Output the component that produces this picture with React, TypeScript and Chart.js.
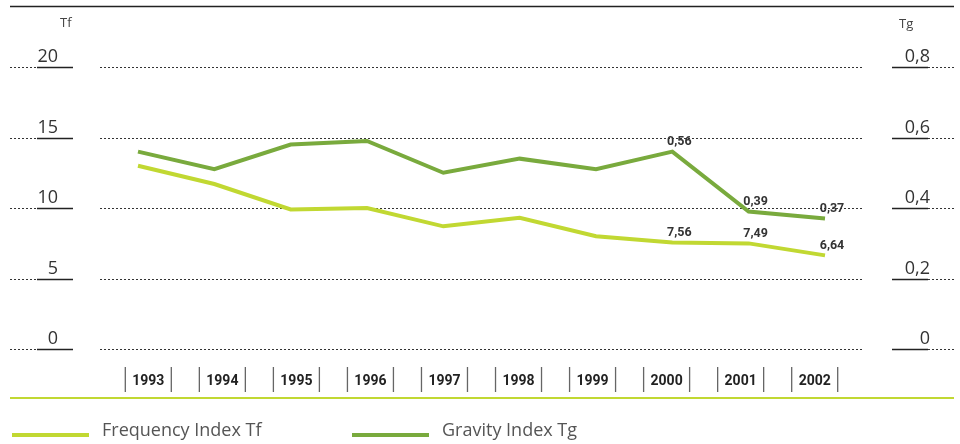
import React, { useEffect, useRef } from "react";
import { Chart, registerables } from "chart.js";

Chart.register(...registerables);

const years = ["1993", "1994", "1995", "1996", "1997", "1998", "1999", "2000", "2001", "2002"];
const frequencyTf = [13.0, 11.7, 9.9, 10.0, 8.7, 9.3, 8.0, 7.56, 7.49, 6.64];
const gravityTg = [0.56, 0.51, 0.58, 0.59, 0.5, 0.54, 0.51, 0.56, 0.39, 0.37];
const labeledYears = ["2000", "2001", "2002"];
const tfTickValues = [0, 5, 10, 15, 20];
const tfTickLabels = ["0", "5", "10", "15", "20"];
const tgTickValues = [0, 0.2, 0.4, 0.6, 0.8];
const tgTickLabels = ["0", "0,2", "0,4", "0,6", "0,8"];
const seriesNames = ["Frequency Index Tf", "Gravity Index Tg"];
const axisTitles = ["Tf", "Tg"];

const LIME = "#c1d832";
const GREEN = "#79aa3d";
const INK = "#333333";

const fmt = (v: number) => v.toFixed(2).replace(".", ",");

const decorPlugin = {
  id: "decor",
  beforeDatasetsDraw(chart: any) {
    const ctx = chart.ctx;
    const y = chart.scales.y;
    const y1 = chart.scales.y1;
    const x = chart.scales.x;
    const W = chart.width;
    ctx.save();
    // top rule
    ctx.strokeStyle = "#222";
    ctx.lineWidth = 1.3;
    ctx.beginPath();
    ctx.moveTo(10, 6.5);
    ctx.lineTo(W - 6, 6.5);
    ctx.stroke();

    // axis titles
    ctx.fillStyle = "#444";
    ctx.font = "13px 'Open Sans', sans-serif";
    ctx.textBaseline = "middle";
    ctx.textAlign = "left";
    ctx.fillText(axisTitles[0], 60, 23);
    ctx.fillText(axisTitles[1], 899, 24);

    // grid lines + tick labels
    tfTickValues.forEach((v, i) => {
      const py = Math.round(y.getPixelForValue(v)) + 0.5;
      ctx.strokeStyle = "#333";
      ctx.lineWidth = 1;
      ctx.setLineDash([2, 2]);
      ctx.beginPath();
      ctx.moveTo(10, py);
      ctx.lineTo(37, py);
      ctx.moveTo(100, py);
      ctx.lineTo(863, py);
      ctx.moveTo(928, py);
      ctx.lineTo(W - 6, py);
      ctx.stroke();
      ctx.setLineDash([]);
      ctx.lineWidth = 1.5;
      ctx.strokeStyle = "#222";
      ctx.beginPath();
      ctx.moveTo(37, py);
      ctx.lineTo(73, py);
      ctx.moveTo(892, py);
      ctx.lineTo(928, py);
      ctx.stroke();

      ctx.fillStyle = INK;
      ctx.font = "18px 'Open Sans', sans-serif";
      ctx.textBaseline = "alphabetic";
      ctx.textAlign = "right";
      ctx.fillText(tfTickLabels[i], 58, py - 6);
      const ty = Math.round(y1.getPixelForValue(tgTickValues[i])) + 0.5;
      ctx.fillText(tgTickLabels[i], 930, ty - 6);
    });

    // year labels with bars
    const center = (chart.chartArea.left + chart.chartArea.right) / 2;
    ctx.font = "bold 14px 'Roboto', sans-serif";
    ctx.textAlign = "center";
    ctx.textBaseline = "middle";
    years.forEach((yr, i) => {
      const px = x.getPixelForValue(i);
      const lx = center + (px - center) * 0.97;
      ctx.fillStyle = "#222";
      ctx.fillText(yr, lx, 381);
      ctx.strokeStyle = "#666";
      ctx.lineWidth = 1.3;
      ctx.beginPath();
      ctx.moveTo(lx - 23, 367);
      ctx.lineTo(lx - 23, 392);
      ctx.moveTo(lx + 23, 367);
      ctx.lineTo(lx + 23, 392);
      ctx.stroke();
    });

    // lime rule
    ctx.strokeStyle = LIME;
    ctx.lineWidth = 2;
    ctx.beginPath();
    ctx.moveTo(10, 398);
    ctx.lineTo(W - 6, 398);
    ctx.stroke();

    // legend
    const legendX = [12, 352];
    chart.data.datasets.forEach((ds: any, i: number) => {
      ctx.strokeStyle = ds.borderColor;
      ctx.lineWidth = 4;
      ctx.beginPath();
      ctx.moveTo(legendX[i], 435);
      ctx.lineTo(legendX[i] + 77, 435);
      ctx.stroke();
      ctx.fillStyle = "#555";
      ctx.font = "18px 'Open Sans', sans-serif";
      ctx.textAlign = "left";
      ctx.textBaseline = "middle";
      ctx.fillText(ds.label, legendX[i] + 90, 431);
    });
    ctx.restore();
  },
  afterDatasetsDraw(chart: any) {
    const ctx = chart.ctx;
    ctx.save();
    ctx.font = "bold 12.5px 'Roboto', sans-serif";
    ctx.fillStyle = INK;
    ctx.textAlign = "center";
    ctx.textBaseline = "middle";
    chart.data.datasets.forEach((ds: any, di: number) => {
      const meta = chart.getDatasetMeta(di);
      years.forEach((yr, i) => {
        if (!labeledYears.includes(yr)) return;
        const el = meta.data[i];
        ctx.fillText(fmt(ds.data[i]), el.x + 7, el.y - 10);
      });
    });
    ctx.restore();
  },
};

export default function App() {
  const ref = useRef<HTMLCanvasElement | null>(null);
  useEffect(() => {
    document.body.style.margin = "0";
    const chart = new Chart(ref.current as HTMLCanvasElement, {
      type: "line",
      data: {
        labels: years,
        datasets: [
          {
            label: seriesNames[0],
            data: frequencyTf,
            borderColor: LIME,
            backgroundColor: LIME,
            borderWidth: 4,
            pointRadius: 0,
            tension: 0,
            yAxisID: "y",
          },
          {
            label: seriesNames[1],
            data: gravityTg,
            borderColor: GREEN,
            backgroundColor: GREEN,
            borderWidth: 4,
            pointRadius: 0,
            tension: 0,
            yAxisID: "y1",
          },
        ],
      },
      options: {
        responsive: false,
        animation: false,
        layout: { padding: { left: 138, right: 135, top: 67, bottom: 95 } },
        plugins: { legend: { display: false }, tooltip: { enabled: false } },
        scales: {
          x: { type: "category", offset: false, display: false },
          y: { min: 0, max: 20, display: false },
          y1: { min: 0, max: 0.8, display: false, position: "right" },
        },
      },
      plugins: [decorPlugin],
    });
    return () => chart.destroy();
  }, []);
  return (
    <div style={{ width: 960, height: 444, position: "relative" }}>
      <canvas ref={ref} width={960} height={444} style={{ display: "block" }} />
    </div>
  );
}
